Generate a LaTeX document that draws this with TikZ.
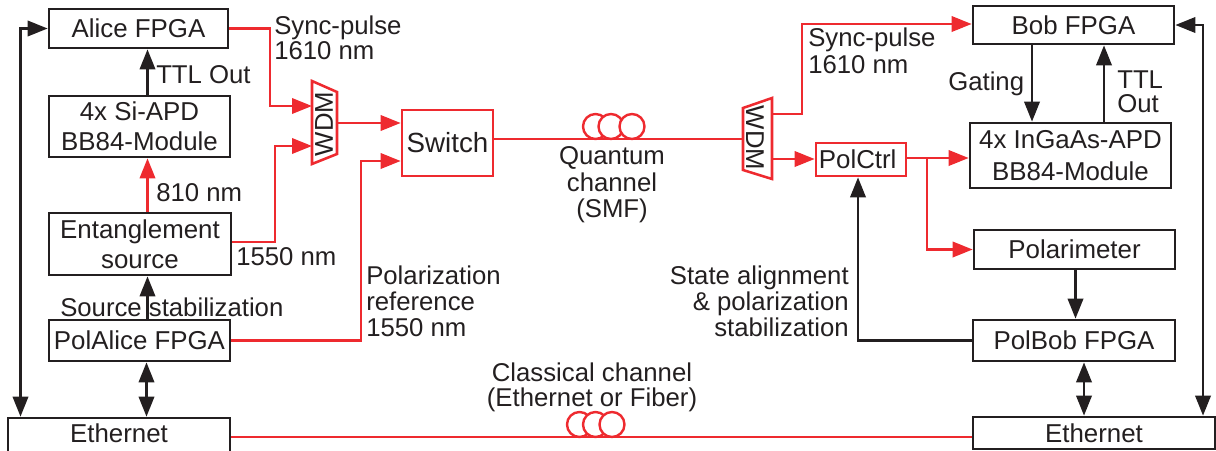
\documentclass[tikz,border=0pt]{standalone}
\usepackage{fontspec}
\setmainfont{Liberation Sans}
\usetikzlibrary{arrows.meta}
\definecolor{ink}{HTML}{231F20}
\definecolor{rd}{HTML}{EE2A2F}
\tikzset{
  box/.style={draw=ink,line width=2pt,inner sep=0pt,align=center,text=ink,font=\fontsize{19.4}{19.5}\selectfont},
  redbox/.style={box,draw=rd},
  lbl/.style={inner sep=0pt,align=left,anchor=west,text=ink,font=\fontsize{19.3}{19.5}\selectfont},
  blk/.style={draw=ink,line width=1.9pt},
  red/.style={draw=rd,line width=1.9pt},
  head/.style={-{Triangle[length=15pt,width=11.5pt]}},
  dhead/.style={{Triangle[length=15pt,width=11.5pt]}-{Triangle[length=15pt,width=11.5pt]}},
  coil/.style={draw=rd,line width=1.8pt,fill=white},
}
\newcommand{\bx}[7][box]{\node[#1,minimum width={(#5-#3)*0.75pt},minimum height={(#6-#4)*0.75pt}] (#2) at ({(#3+#5)/2},{(#4+#6)/2}) {#7};}
\begin{document}
\begin{tikzpicture}[x=0.75pt,y=-0.75pt]
\useasboundingbox (0,0) rectangle (1216,450);
\clip (0,0) rectangle (1216,450);
% boxes
\bx{alice}{49}{9}{228}{48}{Alice FPGA}
\bx{si}{49}{96}{230}{157}{4x Si-APD\\[3pt]BB84-Module}
\bx{ent}{49}{213}{231}{275}{Entanglement\\[3pt]source}
\bx{pola}{49}{320}{230}{361}{PolAlice FPGA}
\bx{ethl}{8}{418}{230}{458}{\raisebox{7.5pt}{Ethernet}}
\bx[redbox]{sw}{402}{110}{493}{176}{\fontsize{20.8}{21}\selectfont Switch}
\bx[redbox]{pc}{816}{143}{906}{176}{PolCtrl\hspace{5pt}}
\bx{bob}{973}{6}{1174}{44}{Bob FPGA}
\bx{ing}{970}{123}{1171}{188}{4x InGaAs-APD\\[5pt]BB84-Module}
\bx{pm}{974}{230}{1175}{269}{Polarimeter}
\bx{polb}{973}{320}{1175}{361}{PolBob FPGA}
\bx{ethr}{973}{417}{1215}{449}{Ethernet}
% WDM
\draw[red,fill=white] (312,81) -- (337,92) -- (337,154) -- (312,164) -- cycle;
\node[lbl,anchor=center,rotate=90] (wl) at (324,124) {WDM};
\draw[red,fill=white] (743,108) -- (772,98) -- (772,179) -- (743,170) -- cycle;
\node[lbl,anchor=center,rotate=-90] (wr) at (755,138) {WDM};
\coordinate (wlA) at (312,106);
\coordinate (wlB) at (312,146);
\coordinate (wlO) at (337,123);
\coordinate (wrI) at (743,139);
\coordinate (wrA) at (772,114);
\coordinate (wrB) at (772,159);
% black connectors
\coordinate (railL) at (20.5,28.5);
\coordinate (railR) at (1203,25);
\draw[blk,dhead] (alice.west) -- (railL) -- (railL |- ethl.north);
\draw[blk,dhead] (bob.east |- railR) -- (railR) -- (railR |- ethr.north);
\draw[blk,head] (147.5,0 |- si.north) -- (147.5,0 |- alice.south);
\draw[blk,head] (147.5,0 |- pola.north) -- (147.5,0 |- ent.south);
\draw[blk,dhead] (146.5,0 |- pola.south) -- (146.5,0 |- ethl.north);
\draw[blk,head] (1032,0 |- bob.south) -- (1032,0 |- ing.north);
\draw[blk,head] (1104,0 |- ing.north) -- (1104,0 |- bob.south);
\draw[blk,head] (1075.5,0 |- pm.south) -- (1075.5,0 |- polb.north);
\draw[blk,dhead] (1084,0 |- polb.south) -- (1084,0 |- ethr.north);
\draw[blk,head] (polb.west) -| (858,0 |- pc.south);
% red connectors
\draw[red,head] (147.5,0 |- ent.north) -- (147.5,0 |- si.south);
\draw[red,head] (alice.east) -- (270,28.5) -- (270,106) -- (wlA);
\draw[red,head] (ent.east |- 0,242) -- (275,242) -- (275,146) -- (wlB);
\draw[red,head] (wlO) -- (sw.west |- wlO);
\draw[red,head] (pola.east) -- (361,340.5) -- (361,161) -- (sw.west |- 0,161);
\draw[red] (sw.east |- wrI) -- (wrI);
\draw[red,head] (wrA) -- (802,114) -- (802,24) -- (bob.west |- 0,24);
\draw[red,head] (wrB) -- (pc.west |- wrB);
\draw[red,head] (pc.east |- 0,158) -- (ing.west |- 0,158);
\draw[red,head] (927,158) -- (927,249.5) -- (pm.west);
\draw[red] (ethl.east |- 0,437) -- (ethr.west |- 0,437);
% coils
\draw[coil] (595.5,126.5) circle (12.5);
\draw[coil] (611,126.5) circle (12.5);
\draw[coil] (632,126.5) circle (12.5);
\draw[coil] (579.5,424.5) circle (12.5);
\draw[coil] (595.5,424.5) circle (12.5);
\draw[coil] (612,424.5) circle (12.5);
% labels
\node[lbl] (l1) at (274,38) {Sync-pulse\\[-1pt]1610 nm};
\node[lbl] (l2) at (156,75) {TTL Out};
\node[lbl] (l3) at (156,193) {810 nm};
\node[lbl] (l4) at (236,257) {1550 nm};
\node[lbl] (l5) at (60,307) {Source stabilization};
\node[lbl] (l6) at (366,301) {Polarization\\reference\\1550 nm};
\node[lbl,align=right,anchor=east] (l7) at (849,301) {State alignment\\\& polarization\\stabilization};
\node[lbl,align=center,anchor=center] (l8) at (612,185) {Quantum\\[0.3pt]channel\\[0.3pt](SMF)};
\node[lbl,align=center,anchor=center] (l9) at (592,387) {Classical channel\\[-0.5pt](Ethernet or Fiber)};
\node[lbl] (l10) at (808,51) {Sync-pulse\\[1pt]1610 nm};
\node[lbl] (l11) at (948,84) {Gating};
\node[lbl] (l12) at (1117,92) {TTL\\[-1.5pt]Out};
\end{tikzpicture}
\end{document}
